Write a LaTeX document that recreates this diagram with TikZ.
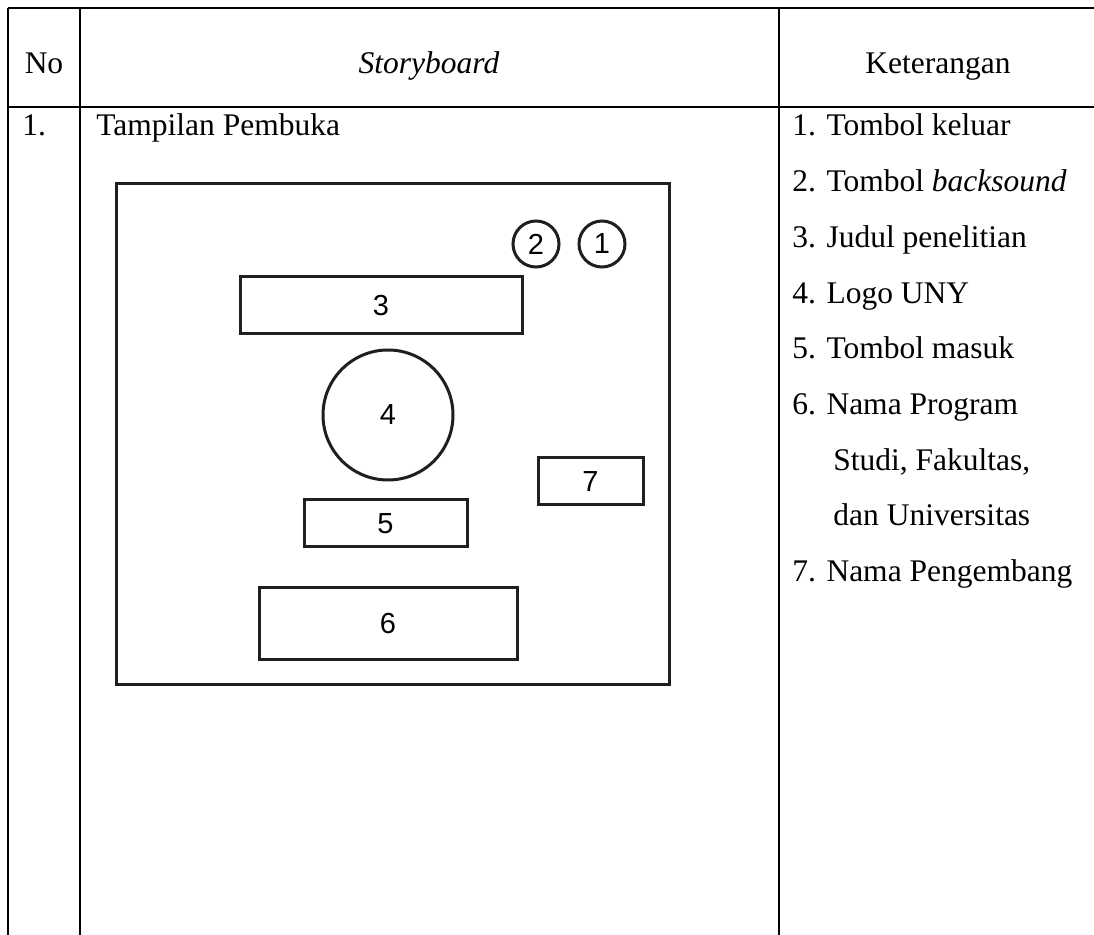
\documentclass[tikz,border=0pt]{standalone}
\usepackage{fontspec}
\setmainfont{Liberation Serif}
\newfontfamily\numfont{Liberation Sans}
\begin{document}
\begin{tikzpicture}[x=0.5pt,y=-0.5pt,
  tline/.style={line width=1.3pt,black},
  sbox/.style={draw=black!88,line width=1.5pt,rectangle,inner sep=0pt,font=\numfont\fontsize{14.5}{16}\selectfont},
  scirc/.style={draw=black!88,line width=1.5pt,circle,inner sep=0pt,font=\numfont\fontsize{14.5}{16}\selectfont},
  ttext/.style={inner sep=0pt,anchor=base west,font=\fontsize{15.75}{18}\selectfont},
  htext/.style={inner sep=0pt,anchor=base,font=\fontsize{15.75}{18}\selectfont}]
\useasboundingbox (0,0) rectangle (1094,935);
\fill[white] (0,0) rectangle (1094,935);
% table grid
\coordinate (tl) at (8,8);
\coordinate (tr) at (1094,8);
\coordinate (ml) at (8,107);
\coordinate (mr) at (1094,107);
\coordinate (c1t) at (80,8);
\coordinate (c1b) at (80,935);
\coordinate (c2t) at (779,8);
\coordinate (c2b) at (779,935);
\coordinate (c0b) at (8,935);
\draw[tline] (tl) -- (tr);
\draw[tline] (ml) -- (mr);
\draw[tline] (tl) -- (c0b);
\draw[tline] (c1t) -- (c1b);
\draw[tline] (c2t) -- (c2b);
% headers
\node[htext] (hno) at (44,74) {No};
\node[htext] (hsb) at (429,74) {\itshape Storyboard};
\node[htext] (hket) at (938,74) {Keterangan};
% row 1
\node[ttext] (n1) at (22,136) {1.};
\node[ttext] (tp) at (96,136) {Tampilan Pembuka};
% storyboard frame
\node[sbox,minimum width=276.5pt,minimum height=250.5pt] (frame) at (392.5,434.5) {};
\node[scirc,minimum size=23pt] (b2) at (536,244) {2};
\node[scirc,minimum size=23pt] (b1) at (602,244) {1};
\node[sbox,minimum width=141pt,minimum height=28.5pt] (b3) at (381,305.5) {3};
\node[scirc,minimum size=65pt] (b4) at (388,415) {4};
\node[sbox,minimum width=52.5pt,minimum height=23.5pt] (b7) at (590.5,481.5) {7};
\node[sbox,minimum width=81.5pt,minimum height=23.5pt] (b5) at (385.5,523.5) {5};
\node[sbox,minimum width=129pt,minimum height=36pt] (b6) at (388,624) {6};
% keterangan
\node[ttext] (k1) at (792,136) {1. Tombol keluar};
\node[ttext] (k2) at (792,191.7) {2. Tombol \textit{backsound}};
\node[ttext] (k3) at (792,247.4) {3. Judul penelitian};
\node[ttext] (k4) at (792,303.1) {4. Logo UNY};
\node[ttext] (k5) at (792,358.8) {5. Tombol masuk};
\node[ttext] (k6) at (792,414.5) {6. Nama Program};
\node[ttext] (k6b) at (833,470.2) {Studi, Fakultas,};
\node[ttext] (k6c) at (833,525.9) {dan Universitas};
\node[ttext] (k7) at (792,581.6) {7. Nama Pengembang};
\end{tikzpicture}
\end{document}
